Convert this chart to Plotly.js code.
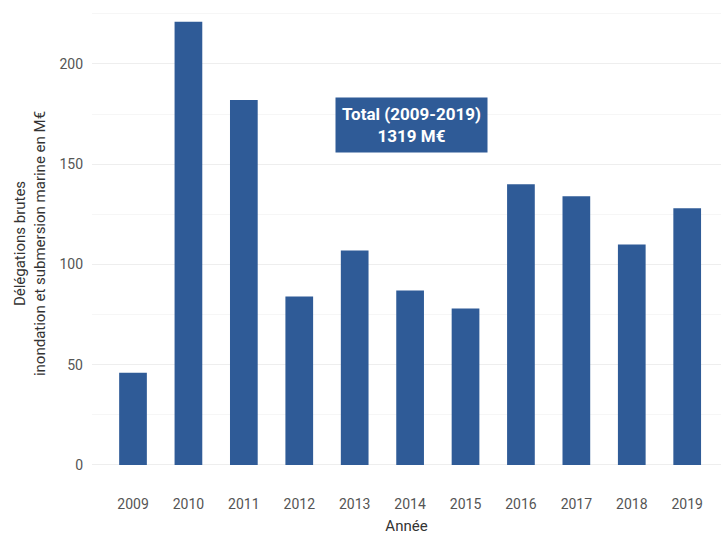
<!DOCTYPE html>
<html><head><meta charset="utf-8">
<script src="https://cdn.plot.ly/plotly-3.0.1.min.js"></script>
<style>html,body{margin:0;padding:0;background:#fff}</style>
</head><body>
<div id="chart" style="width:721px;height:535px"></div>
<script>
const years = ["2009","2010","2011","2012","2013","2014","2015","2016","2017","2018","2019"];
const values = [46, 221, 182, 84, 107, 87, 78, 140, 134, 110, 128];
const yTicks = [0, 50, 100, 150, 200];
const totalLabel = "<b>Total (2009-2019)</b><br><b>1319 M€</b>";

const FONT = "Roboto, 'Noto Sans', sans-serif";

Plotly.newPlot('chart', [{
  type: 'bar', x: years, y: values,
  marker: {color: '#2F5B97'}, width: 0.5, hoverinfo: 'skip'
}], {
  width: 721, height: 535,
  margin: {l: 92, r: 0, t: 0, b: 48},
  paper_bgcolor: '#fff', plot_bgcolor: '#fff',
  showlegend: false,
  font: {family: FONT, color: '#555'},
  xaxis: {
    type: 'category', range: [-0.74, 10.61],
    showgrid: false, zeroline: false, showline: false, ticks: '',
    tickfont: {size: 14, color: '#555'}, ticklabelstandoff: 7,
    title: {text: 'Année', font: {size: 15, color: '#333'}, standoff: 9}
  },
  yaxis: {
    range: [-11, 231.9], tickvals: yTicks,
    showgrid: true, gridcolor: '#EEEEEE', gridwidth: 1,
    minor: {dtick: 25, showgrid: true, gridcolor: '#F6F6F6', gridwidth: 1, ticks: ''},
    zeroline: false, showline: false, ticks: '',
    tickfont: {size: 14, color: '#555'}, ticklabelstandoff: 8,
    title: {text: 'Délégations brutes<br>inondation et submersion marine en M€', font: {size: 15, color: '#333'}, standoff: 10}
  },
  annotations: [{
    xref: 'paper', yref: 'paper', x: 0.508, y: 0.743,
    xanchor: 'center', yanchor: 'middle',
    text: totalLabel, showarrow: false,
    font: {family: FONT, size: 17, color: '#ffffff'}, bgcolor: '#2F5B97',
    borderpad: 6, align: 'center'
  }]
}, {displayModeBar: false, staticPlot: true});
</script>
</body></html>
